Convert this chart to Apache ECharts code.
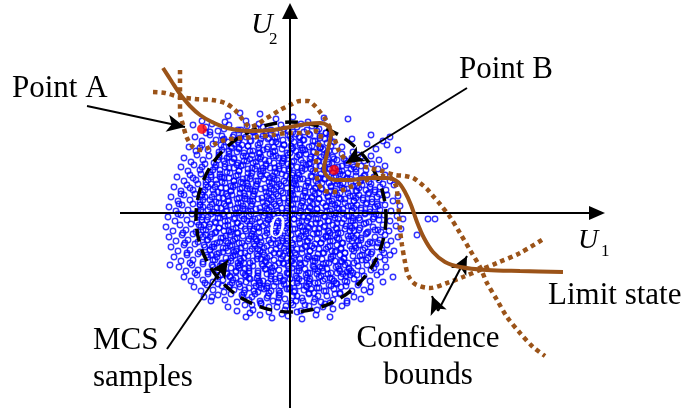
<!DOCTYPE html>
<html><head><meta charset="utf-8">
<script src="https://cdn.jsdelivr.net/npm/echarts@6/dist/echarts.min.js"></script>
<style>html,body{margin:0;padding:0;background:#fff}#c{width:688px;height:411px}</style>
</head><body><div id="c"></div>
<script>
// ---- data (U-space, origin at the axes crossing) ----
const limitState = [[-127,145],[-118,131],[-110,119],[-100,107],[-90,98],[-78,91],[-63,85],[-40,82],[-17,83],[0,86],[17,89],[30,90],[38,87],[41,80],[39,68],[36,55],[34,45],[37,37],[45,33],[60,33],[77,35],[97,35],[108,31],[115,21],[121,8],[127,-9],[134,-25],[143,-39],[155,-49],[170,-54],[197,-57],[230,-58],[273,-59]];
const upperBound = [[-137,121],[-125,120],[-110,116],[-95,114],[-78,113],[-65,110],[-55,103],[-47,93],[-40,86],[-32,89],[-25,94],[-18,98],[-10,103],[0,108],[10,112],[18,112],[25,107],[30,101],[36,93],[41,83],[45,73],[49,62],[56,53],[68,48],[80,45],[92,42],[105,38],[115,37],[123,35],[130,30],[137,24],[143,17],[150,9],[160,-4],[170,-20],[180,-37],[190,-54],[197,-70],[207,-87],[217,-104],[230,-120],[243,-134],[255,-143]];
const lowerBound = [[-110,143],[-110,123],[-110,101],[-107,88],[-103,75],[-97,66],[-90,63],[-82,65],[-73,70],[-65,73],[-50,75],[-33,76],[-17,78],[-2,80],[15,80],[25,82],[31,79],[29,68],[26,55],[26,43],[28,31],[33,23],[43,21],[53,23],[60,26],[68,29],[77,33],[85,36],[95,37],[101,35],[106,27],[108,13],[109,-2],[110,-17],[112,-32],[115,-49],[118,-62],[125,-71],[140,-75],[157,-70],[173,-64],[190,-57],[207,-50],[230,-40],[255,-25]];
const pointA = [-88,84];
const pointB = [44,43];
const circleSpec = [1,-4,95]; // centre u1, centre u2, radius
const axisU1 = [[-170,0],[307,0]];
const axisU2 = [[0,-195],[0,202]];
const annotationArrows = [
  [[-203,107],[-105,86]],   // Point A
  [[177,125],[56,50]],      // Point B
  [[-123,-136],[-62,-47]],  // MCS samples
  [[148,-98],[177,-43]],    // Confidence bounds 1
  [[148,-98],[142,-83]]     // Confidence bounds 2
];
const mcsSamples = [
[-62,97],[-44,92],[-30,99],[-14,94],[3,96],[18,91],[34,95],[58,94],[-50,100],[-97,88],[-88,92],[-80,81],[-65,91],
[-84,86],[-72,82],[-61,88],[-52,83],[-43,87],[-36,81],[-27,86],[-19,83],[-9,88],[-2,82],[7,86],[14,81],[22,87],[29,84],[36,80],[-66,84],[-31,89],[11,89],[-78,89],
[-95,76],[-88,72],[-80,78],[-74,73],[-68,77],[-62,71],[-57,76],[-51,73],[-46,79],[-40,72],[-35,77],[-29,74],[-24,79],[-18,71],[-13,76],[-7,73],[-2,78],[4,71],[9,76],[14,73],[19,79],[25,72],[30,77],[35,74],[40,79],[44,71],[-84,80],[-66,74],[-21,75],[6,79],[62,74],[81,78],[93,72],[100,76],
[-101,66],[-94,62],[-88,68],[-82,63],[-77,69],[-71,61],[-66,66],[-61,62],[-56,69],[-51,64],[-46,60],[-42,67],[-37,62],[-32,68],[-27,63],[-22,66],[-17,61],[-12,69],[-8,64],[-3,60],[1,67],[6,62],[10,68],[15,63],[19,66],[24,61],[28,69],[33,64],[37,60],[41,67],[45,62],[-90,65],[-58,65],[-30,60],[-6,68],[12,65],[31,66],[-48,68],[52,66],[63,61],[77,69],[86,64],[97,68],[108,63],
[-106,55],[-99,51],[-93,58],[-87,53],[-81,57],[-76,50],[-71,56],[-66,52],[-61,59],[-56,54],[-52,50],[-47,57],[-43,52],[-38,58],[-34,51],[-29,56],[-25,53],[-20,59],[-16,50],[-11,55],[-7,52],[-2,58],[2,51],[7,56],[11,53],[16,59],[20,50],[25,55],[29,52],[34,58],[38,51],[43,56],[47,53],[52,59],[57,50],[62,55],[68,58],[74,52],[81,57],[89,53],[-63,55],[-40,54],[-14,57],[9,58],[31,56],[54,54],
[-109,46],[-102,42],[-96,48],[-90,43],[-85,49],[-80,41],[-75,46],[-70,43],[-65,49],[-60,40],[-56,45],[-51,42],[-47,48],[-42,44],[-38,40],[-33,47],[-29,42],[-24,49],[-20,45],[-15,41],[-11,47],[-6,43],[-2,49],[3,40],[7,46],[12,42],[16,48],[21,44],[25,41],[30,47],[34,43],[39,49],[43,40],[48,46],[52,42],[57,48],[61,44],[66,41],[71,47],[76,43],[82,49],[88,44],[95,47],[-53,48],[-27,45],[-1,44],[19,49],[45,45],[63,48],[-88,46],
[-113,36],[-106,32],[-100,38],[-94,33],[-89,39],[-84,31],[-79,36],[-74,33],[-70,39],[-65,30],[-61,35],[-56,32],[-52,38],[-47,34],[-43,30],[-39,37],[-34,32],[-30,39],[-26,34],[-21,31],[-17,37],[-13,33],[-8,39],[-4,30],[0,35],[5,32],[9,38],[13,34],[18,30],[22,36],[26,32],[31,39],[35,34],[39,30],[44,36],[48,32],[53,38],[57,34],[61,30],[66,37],[70,32],[75,38],[79,31],[84,36],[89,33],[95,38],[100,32],[-97,35],[-68,36],[-49,31],[-23,38],[2,38],[28,35],[50,39],[72,35],
[-116,26],[-109,22],[-103,28],[-97,23],[-92,29],[-87,21],[-82,26],[-77,23],[-73,29],[-68,20],[-64,25],[-59,22],[-55,28],[-50,24],[-46,20],[-42,27],[-37,22],[-33,29],[-29,24],[-24,21],[-20,27],[-16,23],[-11,29],[-7,20],[-3,25],[2,22],[6,28],[10,24],[15,20],[19,26],[23,22],[28,29],[32,24],[36,20],[41,26],[45,22],[50,28],[54,24],[58,20],[63,27],[67,22],[72,28],[76,23],[81,29],[85,21],[90,26],[96,23],[104,28],[-100,25],[-79,29],[-57,26],[-40,24],[-13,26],[4,29],[26,25],[47,29],[69,25],[93,29],
[-119,16],[-112,12],[-106,18],[-100,13],[-95,19],[-90,11],[-85,16],[-80,13],[-76,19],[-71,10],[-67,15],[-62,12],[-58,18],[-53,14],[-49,10],[-45,17],[-40,12],[-36,19],[-32,14],[-27,11],[-23,17],[-19,13],[-14,19],[-10,10],[-6,15],[-1,12],[3,18],[7,14],[12,10],[16,16],[20,12],[25,19],[29,14],[33,10],[38,16],[42,12],[47,18],[51,14],[55,10],[60,17],[64,12],[69,18],[73,13],[78,19],[82,11],[87,16],[92,13],[97,18],[103,12],[108,17],[-109,19],[-88,18],[-64,19],[-43,14],[-17,16],[1,19],[22,16],[44,19],[66,15],[89,19],
[-121,6],[-114,2],[-108,8],[-102,3],[-97,9],[-92,1],[-87,6],[-82,3],[-78,9],[-73,0],[-69,5],[-64,2],[-60,8],[-55,4],[-51,0],[-47,7],[-42,2],[-38,9],[-34,4],[-29,1],[-25,7],[-21,3],[-16,9],[-12,0],[-8,5],[-3,2],[1,8],[5,4],[10,0],[14,6],[18,2],[23,9],[27,4],[31,0],[36,6],[40,2],[45,8],[49,4],[53,0],[58,7],[62,2],[67,8],[71,3],[76,9],[80,1],[85,6],[90,3],[95,8],[101,2],[110,7],[-111,9],[-90,8],[-66,9],[-45,4],[-19,6],[3,9],[20,6],[42,9],[64,5],[87,9],
[-122,-4],[-115,-8],[-109,-2],[-103,-7],[-98,-1],[-93,-9],[-88,-4],[-83,-7],[-79,-1],[-74,-10],[-70,-5],[-65,-8],[-61,-2],[-56,-6],[-52,-10],[-48,-3],[-43,-8],[-39,-1],[-35,-6],[-30,-9],[-26,-3],[-22,-7],[-17,-1],[-13,-10],[-9,-5],[-4,-8],[0,-2],[4,-6],[9,-10],[13,-4],[17,-8],[22,-1],[26,-6],[30,-10],[35,-4],[39,-8],[44,-2],[48,-6],[52,-10],[57,-3],[61,-8],[66,-2],[70,-7],[75,-1],[79,-9],[84,-4],[89,-7],[94,-2],[100,-8],[107,-3],[113,-6],[-112,-1],[-91,-2],[-67,-1],[-46,-6],[-20,-4],[2,-1],[19,-4],[41,-1],[63,-5],[86,-1],[138,-6],[145,-6],
[-124,-14],[-117,-18],[-110,-12],[-104,-17],[-99,-11],[-94,-19],[-89,-14],[-84,-17],[-80,-11],[-75,-20],[-71,-15],[-66,-18],[-62,-12],[-57,-16],[-53,-20],[-49,-13],[-44,-18],[-40,-11],[-36,-16],[-31,-19],[-27,-13],[-23,-17],[-18,-11],[-14,-20],[-10,-15],[-5,-18],[-1,-12],[3,-16],[8,-20],[12,-14],[16,-18],[21,-11],[25,-16],[29,-20],[34,-14],[38,-18],[43,-12],[47,-16],[51,-20],[56,-13],[60,-18],[65,-12],[69,-17],[74,-11],[78,-19],[83,-14],[88,-17],[93,-12],[99,-18],[106,-13],[111,-16],[-107,-20],[-86,-12],[-59,-19],[-33,-14],[-7,-13],[18,-14],[40,-20],[62,-15],[91,-19],[127,-22],
[-121,-24],[-114,-28],[-108,-22],[-102,-27],[-97,-21],[-92,-29],[-87,-24],[-82,-27],[-78,-21],[-73,-30],[-69,-25],[-64,-28],[-60,-22],[-55,-26],[-51,-30],[-47,-23],[-42,-28],[-38,-21],[-34,-26],[-29,-29],[-25,-23],[-21,-27],[-16,-21],[-12,-30],[-8,-25],[-3,-28],[1,-22],[5,-26],[10,-30],[14,-24],[18,-28],[23,-21],[27,-26],[31,-30],[36,-24],[40,-28],[45,-22],[49,-26],[53,-30],[58,-23],[62,-28],[67,-22],[71,-27],[76,-21],[80,-29],[85,-24],[90,-27],[95,-22],[101,-28],[108,-24],[-105,-30],[-84,-22],[-62,-30],[-36,-24],[-10,-22],[16,-21],[38,-24],[64,-25],[88,-30],
[-119,-34],[-112,-38],[-106,-32],[-100,-37],[-95,-31],[-90,-39],[-85,-34],[-80,-37],[-76,-31],[-71,-40],[-67,-35],[-62,-38],[-58,-32],[-53,-36],[-49,-40],[-45,-33],[-40,-38],[-36,-31],[-32,-36],[-27,-39],[-23,-33],[-19,-37],[-14,-31],[-10,-40],[-6,-35],[-1,-38],[3,-32],[7,-36],[12,-40],[16,-34],[20,-38],[25,-31],[29,-36],[33,-40],[38,-34],[42,-38],[47,-32],[51,-36],[55,-40],[60,-33],[64,-38],[69,-32],[73,-37],[78,-31],[82,-39],[87,-34],[92,-37],[97,-32],[104,-38],[-103,-40],[-78,-34],[-56,-39],[-30,-32],[-4,-31],[22,-33],[45,-39],[66,-35],[94,-40],
[-116,-44],[-109,-48],[-103,-42],[-97,-47],[-92,-41],[-87,-49],[-82,-44],[-77,-47],[-73,-41],[-68,-50],[-64,-45],[-59,-48],[-55,-42],[-50,-46],[-46,-50],[-42,-43],[-37,-48],[-33,-41],[-29,-46],[-24,-49],[-20,-43],[-16,-47],[-11,-41],[-7,-50],[-3,-45],[2,-48],[6,-42],[10,-46],[15,-50],[19,-44],[23,-48],[28,-41],[32,-46],[36,-50],[41,-44],[45,-48],[50,-42],[54,-46],[58,-50],[63,-43],[67,-48],[72,-42],[76,-47],[81,-41],[85,-49],[90,-44],[95,-47],[100,-42],[-100,-50],[-79,-42],[-52,-50],[-26,-42],[0,-41],[25,-45],[52,-49],[78,-45],[-120,-52],
[-111,-54],[-104,-58],[-98,-52],[-92,-57],[-87,-51],[-82,-59],[-77,-54],[-72,-57],[-68,-51],[-63,-60],[-59,-55],[-54,-58],[-50,-52],[-45,-56],[-41,-60],[-37,-53],[-32,-58],[-28,-51],[-24,-56],[-19,-59],[-15,-53],[-11,-57],[-6,-51],[-2,-60],[2,-55],[7,-58],[11,-52],[15,-56],[20,-60],[24,-54],[28,-58],[33,-51],[37,-56],[41,-60],[46,-54],[50,-58],[55,-52],[59,-56],[63,-60],[68,-53],[72,-58],[77,-52],[81,-57],[86,-51],[91,-59],[96,-54],[-95,-60],[-70,-53],[-47,-60],[-21,-52],[4,-51],[30,-54],[57,-59],[84,-55],
[-106,-64],[-99,-68],[-93,-62],[-87,-67],[-82,-61],[-77,-69],[-72,-64],[-67,-67],[-63,-61],[-58,-70],[-54,-65],[-49,-68],[-45,-62],[-40,-66],[-36,-70],[-32,-63],[-27,-68],[-23,-61],[-19,-66],[-14,-69],[-10,-63],[-6,-67],[-1,-61],[3,-70],[7,-65],[12,-68],[16,-62],[20,-66],[25,-70],[29,-64],[33,-68],[38,-61],[42,-66],[46,-70],[51,-64],[55,-68],[60,-62],[64,-66],[69,-70],[74,-63],[80,-68],[87,-62],[-85,-70],[-60,-63],[-30,-70],[0,-66],[27,-61],[53,-61],[103,-64],[93,-69],
[-96,-74],[-89,-78],[-83,-72],[-77,-77],[-72,-71],[-66,-79],[-61,-74],[-56,-77],[-51,-71],[-46,-80],[-41,-75],[-36,-78],[-31,-72],[-26,-76],[-21,-80],[-16,-73],[-11,-78],[-6,-71],[-1,-76],[4,-79],[9,-73],[14,-77],[19,-71],[24,-80],[29,-75],[34,-78],[39,-72],[44,-76],[50,-80],[56,-73],[62,-78],[68,-72],[74,-77],[81,-74],[-68,-73],[-23,-73],[17,-74],[47,-71],[80,-79],
[-86,-84],[-79,-88],[-72,-82],[-65,-87],[-59,-81],[-53,-89],[-47,-84],[-41,-87],[-35,-81],[-29,-90],[-23,-85],[-17,-88],[-11,-82],[-5,-86],[1,-90],[7,-83],[13,-88],[19,-81],[25,-86],[31,-89],[37,-83],[43,-87],[50,-81],[57,-88],[64,-84],[71,-86],[-78,-84],
[-62,-94],[-53,-98],[-45,-92],[-37,-97],[-29,-91],[-21,-99],[-13,-94],[-5,-97],[3,-92],[11,-98],[19,-93],[27,-97],[35,-91],[43,-96],[52,-93],[-40,-100],[57,-90],
[-44,-104],[-30,-102],[-18,-105],[-8,-101],[-2,-103],[12,-106],[26,-102],[40,-104],[7,-99]
];
const mcsSamplesCore = [
[-56,78],[-49,83],[-44,76],[-37,81],[-34,85],[-27,77],[-24,82],[-15,75],[-14,80],[-6,84],[0,77],[3,81],[10,76],[17,83],[20,78],[27,82],[30,75],[36,80],
[-69,68],[-67,73],[-59,66],[-52,71],[-50,75],[-42,67],[-39,72],[-31,65],[-30,70],[-22,74],[-16,66],[-14,71],[-6,68],[1,74],[3,65],[10,70],[13,73],[22,67],[23,72],[30,65],[37,70],[40,74],
[-71,58],[-68,63],[-61,56],[-53,61],[-51,65],[-44,57],[-40,62],[-32,55],[-31,60],[-23,64],[-17,57],[-15,62],[-7,55],[0,60],[2,64],[10,58],[13,63],[21,56],[23,61],[30,65],[37,58],[39,62],
[-74,48],[-72,53],[-65,46],[-58,51],[-56,55],[-49,47],[-46,52],[-38,45],[-37,50],[-30,54],[-24,47],[-21,52],[-15,45],[-8,50],[-6,54],[1,47],[4,52],[12,45],[13,50],[20,54],[26,47],[28,52],[35,45],[42,50],[44,54],[52,47],[56,52],[64,46],
[-79,38],[-77,43],[-70,36],[-63,41],[-61,45],[-54,37],[-51,42],[-43,35],[-42,40],[-35,44],[-29,37],[-27,42],[-20,35],[-13,40],[-11,44],[-4,37],[-1,42],[7,35],[8,40],[15,44],[21,37],[23,42],[30,35],[37,40],[39,44],[46,37],[49,42],[57,35],[58,40],[66,44],[74,37],
[-84,28],[-82,33],[-75,26],[-68,31],[-66,35],[-59,27],[-56,32],[-48,25],[-47,30],[-40,34],[-34,27],[-32,32],[-25,25],[-18,30],[-16,34],[-9,27],[-6,32],[2,25],[3,30],[10,34],[16,27],[18,32],[25,25],[32,30],[34,34],[41,27],[44,32],[52,25],[53,30],[60,34],[67,27],[71,32],[80,26],
[-88,18],[-85,23],[-78,16],[-72,21],[-69,25],[-62,17],[-59,22],[-51,15],[-50,20],[-43,24],[-37,17],[-35,22],[-28,15],[-21,20],[-19,24],[-12,17],[-9,22],[-1,15],[0,20],[7,24],[13,17],[15,22],[22,15],[29,20],[31,24],[38,17],[41,22],[49,15],[50,20],[57,24],[63,17],[66,22],[73,15],[79,20],[85,23],
[-90,8],[-87,13],[-80,6],[-74,11],[-71,15],[-64,7],[-61,12],[-53,5],[-52,10],[-45,14],[-39,7],[-37,12],[-30,5],[-23,10],[-21,14],[-14,7],[-11,12],[-3,5],[-2,10],[5,14],[11,7],[13,12],[20,5],[27,10],[29,14],[36,7],[39,12],[47,5],[48,10],[55,14],[61,7],[64,12],[71,5],[77,10],[82,14],[88,7],
[-92,-2],[-89,3],[-82,-4],[-76,1],[-73,5],[-66,-3],[-63,2],[-55,-5],[-54,0],[-47,4],[-41,-3],[-39,2],[-32,-5],[-25,0],[-23,4],[-16,-3],[-13,2],[-5,-5],[-4,0],[3,4],[9,-3],[11,2],[18,-5],[25,0],[27,4],[34,-3],[37,2],[45,-5],[46,0],[53,4],[59,-3],[62,2],[69,-5],[75,0],[80,4],[89,-2],
[-91,-12],[-88,-7],[-81,-14],[-75,-9],[-72,-5],[-65,-13],[-62,-8],[-54,-15],[-53,-10],[-46,-6],[-40,-13],[-38,-8],[-31,-15],[-24,-10],[-22,-6],[-15,-13],[-12,-8],[-4,-15],[-3,-10],[4,-6],[10,-13],[12,-8],[19,-15],[26,-10],[28,-6],[35,-13],[38,-8],[46,-15],[47,-10],[54,-6],[60,-13],[63,-8],[70,-15],[76,-10],[83,-6],
[-90,-22],[-87,-17],[-80,-24],[-74,-19],[-71,-15],[-64,-23],[-61,-18],[-53,-25],[-52,-20],[-45,-16],[-39,-23],[-37,-18],[-30,-25],[-23,-20],[-21,-16],[-14,-23],[-11,-18],[-3,-25],[-2,-20],[5,-16],[11,-23],[13,-18],[20,-25],[27,-20],[29,-16],[36,-23],[39,-18],[47,-25],[48,-20],[55,-16],[61,-23],[64,-18],[71,-25],[77,-20],[85,-17],
[-86,-32],[-83,-27],[-76,-34],[-70,-29],[-67,-25],[-60,-33],[-57,-28],[-49,-35],[-48,-30],[-41,-26],[-35,-33],[-33,-28],[-26,-35],[-19,-30],[-17,-26],[-10,-33],[-7,-28],[1,-35],[2,-30],[9,-26],[15,-33],[17,-28],[24,-35],[31,-30],[33,-26],[40,-33],[43,-28],[51,-35],[52,-30],[59,-26],[65,-33],[68,-28],[75,-35],[82,-30],
[-83,-42],[-80,-37],[-73,-44],[-67,-39],[-64,-35],[-57,-43],[-54,-38],[-46,-45],[-45,-40],[-38,-36],[-32,-43],[-30,-38],[-23,-45],[-16,-40],[-14,-36],[-7,-43],[-4,-38],[4,-45],[5,-40],[12,-36],[18,-43],[20,-38],[27,-45],[34,-40],[36,-36],[43,-43],[46,-38],[54,-45],[55,-40],[62,-36],[70,-43],[78,-39],
[-78,-52],[-75,-47],[-68,-54],[-62,-49],[-59,-45],[-52,-53],[-49,-48],[-41,-55],[-40,-50],[-33,-46],[-27,-53],[-25,-48],[-18,-55],[-11,-50],[-9,-46],[-2,-53],[1,-48],[9,-55],[10,-50],[17,-46],[23,-53],[25,-48],[32,-55],[39,-50],[41,-46],[48,-53],[51,-48],[59,-55],[64,-50],[72,-47],
[-70,-62],[-67,-57],[-60,-64],[-54,-59],[-51,-55],[-44,-63],[-41,-58],[-33,-65],[-32,-60],[-25,-56],[-19,-63],[-17,-58],[-10,-65],[-3,-60],[-1,-56],[6,-63],[9,-58],[17,-65],[18,-60],[25,-56],[31,-63],[33,-58],[40,-65],[47,-60],[49,-56],[56,-63],[61,-58],[67,-62],
[-60,-72],[-57,-67],[-50,-74],[-44,-69],[-41,-65],[-34,-73],[-31,-68],[-23,-75],[-22,-70],[-15,-66],[-9,-73],[-7,-68],[0,-75],[7,-70],[9,-66],[16,-73],[19,-68],[27,-75],[28,-70],[35,-66],[41,-73],[44,-68],[51,-74],[57,-69],
[-48,-82],[-45,-77],[-38,-84],[-32,-79],[-29,-75],[-22,-83],[-19,-78],[-11,-85],[-10,-80],[-3,-76],[3,-83],[5,-78],[12,-85],[19,-80],[21,-76],[28,-83],[36,-78],[45,-81],
[-38,-92],[-30,-88],[-21,-94],[-12,-89],[-4,-93],[6,-88],[15,-92],[24,-89],[33,-94],[40,-90]
];
// ---- chart ----
const BROWN = '#9b5318';
const SERIF = '"Liberation Serif","Times New Roman",serif';
const chart = echarts.init(document.getElementById('c'), null, {renderer: 'canvas'});
function arrowItem(seg, sym, size) {
  return [{coord: seg[0], symbol: 'none'}, {coord: seg[1], symbol: sym, symbolSize: size}];
}
function txt(text, x, y, size, opts) {
  opts = opts || {};
  return {type: 'text', x: x, y: y, z: 100, silent: true,
    style: {text: text, font: (opts.italic ? 'italic ' : '') + size + 'px ' + SERIF, fill: opts.fill || '#000',
      textAlign: opts.align || 'left', align: opts.align || 'left', textVerticalAlign: 'middle', verticalAlign: 'middle'}};
}
const sampleStyle = {color: 'rgba(0,0,0,0)', borderColor: '#0000ff', borderWidth: 1.4};
const dotted = {color: BROWN, width: 4.5, type: [4.5, 4], cap: 'butt'};
const option = {
  animation: false,
  grid: {left: 0, right: 0, top: 0, bottom: 0},
  xAxis: {type: 'value', min: -290, max: 398, show: false},
  yAxis: {type: 'value', min: -198, max: 213, show: false},
  series: [
    {type: 'scatter', data: mcsSamples, symbol: 'circle', symbolSize: 5.5, silent: true, z: 1, itemStyle: sampleStyle},
    {type: 'scatter', data: mcsSamplesCore, symbol: 'circle', symbolSize: 5.5, silent: true, z: 1, itemStyle: sampleStyle},
    {type: 'custom', data: [circleSpec], silent: true, z: 3,
      renderItem: function (params, api) {
        const c = api.coord([api.value(0), api.value(1)]);
        const r = api.size([api.value(2), 0])[0];
        return {type: 'circle', shape: {cx: c[0], cy: c[1], r: r},
          style: {fill: 'none', stroke: '#000', lineWidth: 3.5, lineDash: [13, 8]}};
      }},
    {type: 'line', data: upperBound, symbol: 'none', smooth: 0.3, silent: true, z: 4, lineStyle: dotted},
    {type: 'line', data: lowerBound, symbol: 'none', smooth: 0.3, silent: true, z: 4, lineStyle: dotted},
    {type: 'line', data: limitState, symbol: 'none', smooth: 0.3, silent: true, z: 5,
      lineStyle: {color: BROWN, width: 4, type: 'solid'}},
    {type: 'line', data: [], silent: true, z: 6,
      markLine: {silent: true, animation: false, label: {show: false}, symbol: ['none', 'none'],
        lineStyle: {color: '#000', width: 2, type: 'solid'},
        data: [
          arrowItem(axisU1, 'triangle', [14, 16]),
          arrowItem(axisU2, 'triangle', [16, 16])
        ].concat(annotationArrows.map(function (s) { return arrowItem(s, 'arrow', [13, 18]); }))
      }},
    {type: 'scatter', data: [pointA, pointB], symbol: 'circle', symbolSize: 10, silent: true, z: 7,
      itemStyle: {color: '#ff0000'}}
  ],
  graphic: [
    txt('Point A', 12, 89, 31),
    txt('Point B', 459, 70, 31),
    txt('Limit state', 548, 296, 31),
    txt('MCS', 93, 341, 31),
    txt('samples', 93, 378, 31),
    txt('Confidence', 428, 339, 31, {align: 'center'}),
    txt('bounds', 428, 376, 31, {align: 'center'}),
    txt('U', 251, 25, 30, {italic: true}),
    txt('2', 269, 40, 17),
    txt('U', 578, 241, 28, {italic: true}),
    txt('1', 601, 252, 17),
    txt('0', 277, 229, 32, {italic: true, fill: '#fff', align: 'center'})
  ]
};
chart.setOption(option);
</script>
</body></html>
